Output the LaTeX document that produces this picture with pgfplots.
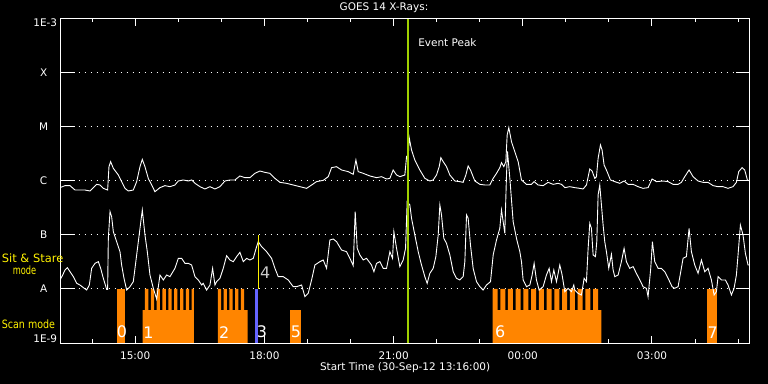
\documentclass[border=0pt]{standalone}
\usepackage{pgfplots}
\pgfplotsset{compat=1.18}
\usepackage{graphicx}
\usepackage{fontspec}
\setmainfont{DejaVu Sans}
\definecolor{scanorange}{RGB}{255,133,0}
\definecolor{bluebar}{RGB}{100,100,255}
\definecolor{peakgreen}{RGB}{160,208,0}
\begin{document}
\begin{tikzpicture}
\path[fill=black, use as bounding box] (0,0) rectangle (768bp,384bp);
\begin{axis}[
  name=ax,
  at={(60.6bp,41bp)}, anchor=south west,
  scale only axis, width=689bp, height=324bp,
  xmin=13.2667, xmax=29.2667, ymin=-9, ymax=-3,
  axis line style={white, line width=1bp},
  font=\fontsize{10.5}{12}\selectfont,
  /pgf/number format/assume math mode=true,
  tick label style={white},
  xtick={15,18,21,24,27},
  xticklabels={15:00,18:00,21:00,00:00,03:00},
  minor xtick={14,...,29},
  xticklabel style={yshift=-5bp},
  ytick={-8,-7,-6,-5,-4},
  yticklabels={A,B,C,M,X},
  yticklabel style={anchor=center, xshift=-17bp},
  extra y ticks={-8,-7,-6,-5,-4},
  extra y tick labels={},
  extra y tick style={major tick length=14bp, grid=none},
  major tick length=7bp, minor tick length=3.5bp,
  tick align=inside,
  xtick style={white, line width=1bp},
  ytick style={white, line width=1bp},
  ymajorgrids,
  major grid style={white, dash pattern=on 1bp off 5bp, line width=1bp},
]
% scan-mode bars
\addplot[fill=scanorange, draw=none] coordinates {(14.569,-9)(14.569,-8)(14.762,-8)(14.762,-9)} -- cycle;
\addplot[fill=scanorange, draw=none] coordinates {(15.172,-9) (15.172,-8.39) (15.226,-8.39) (15.226,-8) (15.303,-8) (15.303,-8.39) (15.362,-8.39) (15.362,-8) (15.438,-8) (15.438,-8.39) (15.497,-8.39) (15.497,-8) (15.574,-8) (15.574,-8.39) (15.633,-8.39) (15.633,-8) (15.710,-8) (15.710,-8.39) (15.769,-8.39) (15.769,-8) (15.845,-8) (15.845,-8.39) (15.905,-8.39) (15.905,-8) (15.981,-8) (15.981,-8.39) (16.040,-8.39) (16.040,-8) (16.117,-8) (16.117,-8.39) (16.176,-8.39) (16.176,-8) (16.253,-8) (16.253,-8.39) (16.312,-8.39) (16.312,-8) (16.363,-8) (16.363,-9)} -- cycle;
\addplot[fill=scanorange, draw=none] coordinates {(16.920,-9) (16.920,-8) (16.997,-8) (16.997,-8.39) (17.054,-8.39) (17.054,-8) (17.130,-8) (17.130,-8.39) (17.187,-8.39) (17.187,-8) (17.264,-8) (17.264,-8.39) (17.321,-8.39) (17.321,-8) (17.397,-8) (17.397,-8.39) (17.454,-8.39) (17.454,-8) (17.531,-8) (17.531,-8.39) (17.610,-8.39) (17.610,-9)} -- cycle;
\addplot[fill=bluebar, draw=none] coordinates {(17.786,-9)(17.786,-8)(17.842,-8)(17.842,-9)} -- cycle;
\addplot[fill=scanorange, draw=none] coordinates {(18.592,-9)(18.592,-8.39)(18.840,-8.39)(18.840,-9)} -- cycle;
\addplot[fill=scanorange, draw=none] coordinates {(23.297,-9) (23.297,-8) (23.413,-8) (23.413,-8.39) (23.477,-8.39) (23.477,-8) (23.593,-8) (23.593,-8.39) (23.656,-8.39) (23.656,-8) (23.772,-8)(23.772,-8.39) (23.836,-8.39)(23.836,-8) (23.952,-8)(23.952,-8.39) (24.015,-8.39)(24.015,-8) (24.131,-8)(24.131,-8.39) (24.195,-8.39)(24.195,-8) (24.311,-8)(24.311,-8.39) (24.375,-8.39)(24.375,-8) (24.491,-8)(24.491,-8.39) (24.554,-8.39)(24.554,-8) (24.670,-8)(24.670,-8.39) (24.734,-8.39)(24.734,-8) (24.850,-8)(24.850,-8.39) (24.913,-8.39)(24.913,-8) (25.029,-8)(25.029,-8.39) (25.093,-8.39)(25.093,-8) (25.209,-8)(25.209,-8.39) (25.273,-8.39)(25.273,-8) (25.389,-8)(25.389,-8.39) (25.452,-8.39)(25.452,-8) (25.568,-8)(25.568,-8.39) (25.632,-8.39)(25.632,-8) (25.748,-8)(25.748,-8.39) (25.827,-8.39)(25.827,-9)} -- cycle;
\addplot[fill=scanorange, draw=none] coordinates {(28.272,-9)(28.272,-8)(28.504,-8)(28.504,-9)} -- cycle;
% long channel (1-8 A)
\addplot[white, line width=0.9bp] coordinates {
(13.253,-6.123) (13.369,-6.086) (13.485,-6.086) (13.601,-6.167) (13.717,-6.167) (13.833,-6.167) (13.949,-6.185) (14.027,-6.123) (14.104,-6.062) (14.182,-6.074) (14.259,-6.136) (14.359,-6.167) (14.390,-5.735) (14.429,-5.642) (14.491,-5.765) (14.607,-5.889) (14.684,-6.012) (14.762,-6.136) (14.839,-6.185) (14.955,-6.167) (15.033,-6.012) (15.110,-5.735) (15.164,-5.599) (15.226,-5.735) (15.303,-5.951) (15.381,-6.074) (15.458,-6.198) (15.574,-6.123) (15.690,-6.086) (15.806,-6.105) (15.922,-6.074) (16.000,-6.000) (16.116,-5.981) (16.232,-6.000) (16.309,-5.981) (16.387,-6.043) (16.503,-6.105) (16.619,-6.148) (16.735,-6.105) (16.851,-6.148) (16.967,-6.105) (17.083,-6.000) (17.199,-5.981) (17.315,-5.981) (17.431,-5.907) (17.547,-5.938) (17.663,-5.938) (17.779,-5.858) (17.895,-5.815) (18.011,-5.840) (18.128,-5.858) (18.244,-5.951) (18.360,-6.025) (18.514,-6.043) (18.669,-6.074) (18.824,-6.105) (18.979,-6.136) (19.095,-6.074) (19.211,-6.012) (19.366,-5.988) (19.482,-5.920) (19.559,-5.753) (19.675,-5.735) (19.791,-5.796) (19.946,-5.827) (20.062,-5.877) (20.124,-5.611) (20.178,-5.827) (20.294,-5.858) (20.449,-5.907) (20.604,-5.938) (20.720,-5.920) (20.836,-5.963) (20.913,-5.951) (20.990,-5.796) (21.068,-5.889) (21.145,-5.920) (21.261,-5.889) (21.300,-5.549) (21.338,-5.580) (21.362,-5.198) (21.416,-5.426) (21.493,-5.611) (21.609,-5.796) (21.725,-5.951) (21.841,-6.000) (21.919,-5.981) (21.996,-5.889) (22.058,-5.735) (22.097,-5.568) (22.151,-5.642) (22.228,-5.735) (22.306,-5.889) (22.422,-6.000) (22.538,-6.012) (22.615,-6.025) (22.677,-5.889) (22.731,-5.722) (22.785,-5.796) (22.886,-6.000) (23.002,-6.062) (23.118,-6.074) (23.234,-6.074) (23.312,-5.951) (23.389,-5.858) (23.466,-5.753) (23.505,-5.660) (23.559,-5.735) (23.606,-5.642) (23.637,-5.148) (23.675,-5.012) (23.737,-5.272) (23.814,-5.457) (23.892,-5.642) (23.969,-5.981) (24.085,-6.062) (24.201,-6.062) (24.263,-6.012) (24.356,-6.074) (24.472,-6.086) (24.588,-6.025) (24.704,-6.062) (24.820,-6.043) (24.898,-6.062) (24.975,-6.123) (25.091,-6.105) (25.207,-6.123) (25.323,-6.136) (25.400,-6.148) (25.478,-6.074) (25.555,-5.778) (25.609,-5.815) (25.671,-5.951) (25.710,-5.920) (25.749,-5.580) (25.803,-5.333) (25.841,-5.426) (25.888,-5.704) (25.958,-5.827) (26.035,-5.981) (26.136,-6.012) (26.252,-6.043) (26.352,-6.000) (26.445,-6.062) (26.561,-6.062) (26.677,-6.105) (26.793,-6.136) (26.909,-6.123) (27.002,-5.963) (27.103,-6.012) (27.257,-6.000) (27.374,-6.012) (27.490,-6.062) (27.606,-6.062) (27.683,-6.025) (27.760,-5.920) (27.861,-5.796) (27.954,-5.920) (28.070,-6.000) (28.186,-6.025) (28.302,-6.025) (28.418,-6.086) (28.534,-6.105) (28.650,-6.105) (28.766,-6.136) (28.882,-6.105) (28.960,-6.025) (29.014,-5.827) (29.091,-5.753) (29.153,-5.796) (29.215,-5.981) (29.266,-6.000)
};
% short channel (0.5-4 A)
\addplot[white, line width=0.9bp] coordinates {
(13.253,-7.833) (13.315,-7.741) (13.369,-7.648) (13.423,-7.605) (13.485,-7.679) (13.563,-7.772) (13.640,-7.895) (13.717,-7.926) (13.795,-7.975) (13.872,-8.019) (13.934,-7.926) (13.988,-7.617) (14.065,-7.525) (14.143,-7.494) (14.197,-7.617) (14.259,-7.802) (14.336,-8.006) (14.359,-8.006) (14.375,-7.062) (14.414,-6.568) (14.452,-6.660) (14.491,-6.938) (14.568,-7.123) (14.646,-7.309) (14.684,-7.556) (14.739,-7.802) (14.801,-8.019) (14.878,-7.957) (14.955,-7.864) (15.033,-7.370) (15.110,-6.877) (15.164,-6.537) (15.226,-7.000) (15.280,-7.309) (15.342,-7.741) (15.420,-7.988) (15.497,-8.185) (15.574,-7.741) (15.652,-7.833) (15.729,-7.741) (15.806,-7.772) (15.922,-7.617) (16.000,-7.432) (16.077,-7.432) (16.155,-7.525) (16.232,-7.525) (16.309,-7.556) (16.387,-7.772) (16.464,-7.833) (16.542,-7.926) (16.580,-7.895) (16.658,-8.019) (16.735,-7.926) (16.797,-7.617) (16.851,-7.926) (16.890,-7.864) (16.967,-7.802) (17.044,-7.617) (17.122,-7.383) (17.199,-7.463) (17.277,-7.494) (17.354,-7.401) (17.431,-7.321) (17.509,-7.494) (17.586,-7.432) (17.663,-7.463) (17.741,-7.432) (17.818,-7.216) (17.857,-7.123) (17.934,-7.216) (18.050,-7.309) (18.166,-7.432) (18.244,-7.617) (18.321,-7.772) (18.437,-7.772) (18.553,-7.833) (18.669,-7.957) (18.747,-7.957) (18.863,-7.926) (18.940,-8.142) (19.017,-8.080) (19.095,-7.833) (19.172,-7.556) (19.288,-7.494) (19.366,-7.463) (19.443,-7.617) (19.520,-7.093) (19.598,-7.074) (19.675,-7.123) (19.791,-7.278) (19.907,-7.309) (19.985,-7.432) (20.062,-7.568) (20.108,-6.568) (20.155,-7.247) (20.217,-7.370) (20.294,-7.463) (20.371,-7.432) (20.487,-7.556) (20.542,-7.679) (20.604,-7.525) (20.681,-7.494) (20.759,-7.617) (20.836,-7.617) (20.913,-7.309) (20.975,-7.432) (21.006,-6.938) (21.068,-7.247) (21.145,-7.586) (21.222,-7.463) (21.277,-7.247) (21.315,-6.383) (21.377,-6.444) (21.416,-6.691) (21.493,-7.000) (21.571,-7.309) (21.648,-7.556) (21.725,-7.772) (21.779,-7.895) (21.841,-7.710) (21.919,-7.617) (21.981,-7.401) (22.035,-7.000) (22.074,-6.444) (22.112,-6.630) (22.166,-7.062) (22.228,-7.154) (22.306,-7.370) (22.383,-7.679) (22.460,-7.802) (22.538,-7.833) (22.615,-7.772) (22.654,-7.494) (22.693,-6.630) (22.731,-6.691) (22.785,-7.185) (22.847,-7.617) (22.925,-7.864) (23.002,-7.957) (23.079,-8.019) (23.157,-7.926) (23.250,-7.864) (23.312,-7.370) (23.389,-7.093) (23.466,-6.877) (23.505,-6.537) (23.544,-6.753) (23.582,-6.969) (23.621,-5.900) (23.644,-5.450) (23.699,-5.950) (23.776,-6.753) (23.853,-7.062) (23.931,-7.309) (23.969,-7.494) (24.008,-7.833) (24.085,-7.957) (24.163,-7.926) (24.217,-7.741) (24.263,-7.525) (24.317,-7.833) (24.379,-8.019) (24.472,-7.957) (24.549,-7.741) (24.612,-7.617) (24.666,-7.864) (24.720,-7.648) (24.782,-7.864) (24.859,-7.556) (24.913,-7.741) (24.975,-8.049) (25.053,-7.988) (25.130,-8.049) (25.184,-7.926) (25.207,-8.019) (25.284,-8.080) (25.362,-8.111) (25.424,-7.802) (25.478,-7.864) (25.517,-7.247) (25.555,-6.784) (25.594,-6.877) (25.633,-7.370) (25.687,-7.401) (25.718,-7.123) (25.749,-6.259) (25.787,-6.074) (25.826,-6.444) (25.865,-6.815) (25.903,-7.123) (25.942,-7.309) (25.996,-7.617) (26.058,-7.358) (26.097,-7.648) (26.136,-7.772) (26.213,-7.741) (26.290,-7.494) (26.352,-7.247) (26.406,-7.494) (26.484,-7.617) (26.561,-7.586) (26.638,-7.710) (26.716,-7.833) (26.793,-7.957) (26.871,-7.988) (26.909,-8.142) (26.971,-7.617) (27.010,-7.123) (27.064,-7.494) (27.141,-7.617) (27.219,-7.617) (27.296,-7.679) (27.374,-7.802) (27.466,-7.957) (27.528,-7.988) (27.606,-7.957) (27.668,-7.679) (27.722,-7.432) (27.799,-7.401) (27.861,-6.877) (27.915,-7.309) (27.993,-7.556) (28.070,-7.710) (28.148,-7.463) (28.225,-7.679) (28.302,-7.617) (28.380,-7.833) (28.442,-8.111) (28.496,-8.049) (28.534,-7.772) (28.612,-7.833) (28.704,-7.833) (28.766,-7.926) (28.844,-8.111) (28.906,-7.988) (28.960,-7.741) (28.998,-7.370) (29.053,-6.815) (29.114,-7.000) (29.169,-7.340) (29.231,-7.556) (29.266,-7.556)
};
% event peak and sit & stare markers
\addplot[peakgreen, line width=2bp] coordinates {(21.324,-9) (21.324,-3)};
\addplot[yellow, line width=1bp] coordinates {(17.856,-8) (17.856,-7)};
\node[anchor=west, inner sep=0, white] at (axis cs:21.57,-3.444) {Event Peak};
\begin{scope}[every node/.style={anchor=south west, inner sep=0, white, font=\fontsize{16}{18}\selectfont}]
\node at (axis cs:14.569,-8.913) {0};
\node at (axis cs:15.186,-8.913) {1};
\node at (axis cs:16.944,-8.913) {2};
\node at (axis cs:17.819,-8.913) {3};
\node[text=white!80!black] at (axis cs:17.895,-7.802) {4};
\node at (axis cs:18.608,-8.913) {5};
\node at (axis cs:23.350,-8.913) {6};
\node at (axis cs:28.288,-8.913) {7};
\end{scope}
\end{axis}
\begin{scope}[font=\fontsize{10.5}{12}\selectfont]
\node[anchor=north east, inner sep=0, white] at ([xshift=-3.3bp]ax.north west) {1E-3};
\node[anchor=south east, inner sep=0, white] at ([xshift=-3.3bp]ax.south west) {1E-9};
\node[white] at ([yshift=-25bp]ax.south) {Start Time (30-Sep-12 13:16:00)};
\node[white] at (384bp,376bp) {GOES 14 X-Rays:};
\end{scope}
\begin{scope}[every node/.style={anchor=west, inner sep=0, yellow, font=\fontsize{11.5}{13}\selectfont}]
\node at (1.7bp,126bp) {Sit \& Stare};
\node at (12.7bp,113.3bp) {\scalebox{0.72}[1]{mode}};
\node at (1.7bp,60bp) {\scalebox{0.83}[1]{Scan mode}};
\end{scope}
\end{tikzpicture}
\end{document}
